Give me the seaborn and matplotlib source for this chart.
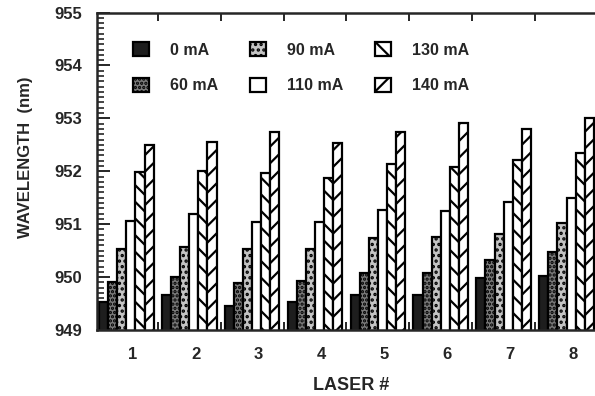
import matplotlib
matplotlib.use("Agg")
import matplotlib.pyplot as plt
import numpy as np
import pandas as pd
import seaborn as sns

lasers = ["1", "2", "3", "4", "5", "6", "7", "8"]
currents = ["0 mA", "60 mA", "90 mA", "110 mA", "130 mA", "140 mA"]
wl_0 = [949.52, 949.66, 949.45, 949.52, 949.67, 949.67, 949.98, 950.02]
wl_60 = [949.91, 950.00, 949.89, 949.93, 950.08, 950.08, 950.32, 950.47]
wl_90 = [950.53, 950.57, 950.53, 950.54, 950.73, 950.75, 950.81, 951.03]
wl_110 = [951.06, 951.19, 951.04, 951.05, 951.26, 951.25, 951.41, 951.50]
wl_130 = [951.98, 952.00, 951.96, 951.88, 952.14, 952.08, 952.21, 952.34]
wl_140 = [952.50, 952.56, 952.75, 952.53, 952.75, 952.91, 952.80, 953.01]

series = [wl_0, wl_60, wl_90, wl_110, wl_130, wl_140]
df = pd.DataFrame({
    "laser": np.repeat([lasers], len(currents), axis=0).ravel(),
    "current": np.repeat(currents, len(lasers)),
    "wl": np.concatenate(series),
})

sns.set_style("ticks")
plt.rcParams["font.family"] = ["Liberation Sans", "DejaVu Sans"]
plt.rcParams["font.weight"] = "bold"
plt.rcParams["hatch.linewidth"] = 1.6

fig = plt.figure(figsize=(5.95, 3.96), dpi=100)
ax = fig.add_axes([97 / 595, 66 / 396, 501 / 595, 317.5 / 396])

sns.barplot(data=df, x="laser", y="wl", hue="current", order=lasers,
            hue_order=currents, width=0.87, gap=0, errorbar=None,
            legend=False, ax=ax, palette=["white"] * 6)

faces = ["#1e1e1e", "#7a7a7a", "#c4c4c4", "white", "white", "white"]
hatches = [None, "....", "...", None, "\\\\", "//"]
for cont, fc, h in zip(ax.containers, faces, hatches):
    for p in cont.patches:
        p.set_facecolor(fc)
        p.set_edgecolor("black")
        p.set_linewidth(1.6)
        if h:
            p.set_hatch(h)

ax.set_ylim(949, 955)
ax.set_xlim(-0.467, 7.45)
ax.set_yticks(np.arange(949, 956, 1))
ax.set_yticks(np.arange(949, 955.01, 0.1), minor=True)
ax.set_xticks(np.arange(len(lasers)) + 0.1)
ax.set_xticklabels(lasers)
ax.set_xticks(np.arange(len(lasers)) + 0.5, minor=True)

ax.tick_params(axis="y", which="major", direction="in", length=9, width=1.4,
               pad=11, labelsize=12)
ax.tick_params(axis="y", which="minor", direction="in", length=5, width=1.2)
ax.tick_params(axis="x", which="major", length=0, pad=12, labelsize=12)
ax.tick_params(axis="x", which="minor", direction="in", length=6, width=1.4,
               top=True, bottom=True)
for lab in ax.get_xticklabels() + ax.get_yticklabels():
    lab.set_fontweight("bold")

for s in ax.spines.values():
    s.set_linewidth(1.8)
    s.set_visible(True)

ax.set_ylabel("WAVELENGTH  (nm)", fontsize=12, fontweight="bold")
ax.set_xlabel("LASER #", fontsize=13, fontweight="bold")
ax.yaxis.set_label_coords(-0.128, 0.545)
ax.xaxis.set_label_coords(0.507, -0.148)

handles = [c.patches[0] for c in ax.containers]
leg = ax.legend(handles, currents, ncol=3, loc="upper left",
                bbox_to_anchor=(0.072, 0.907), frameon=False,
                fontsize=11.5, handlelength=1.0, handleheight=1.0,
                handletextpad=1.3, columnspacing=2.0, labelspacing=1.25,
                borderpad=0, borderaxespad=0)
for t in leg.get_texts():
    t.set_fontweight("bold")

fig.savefig("out.png", dpi=100)
